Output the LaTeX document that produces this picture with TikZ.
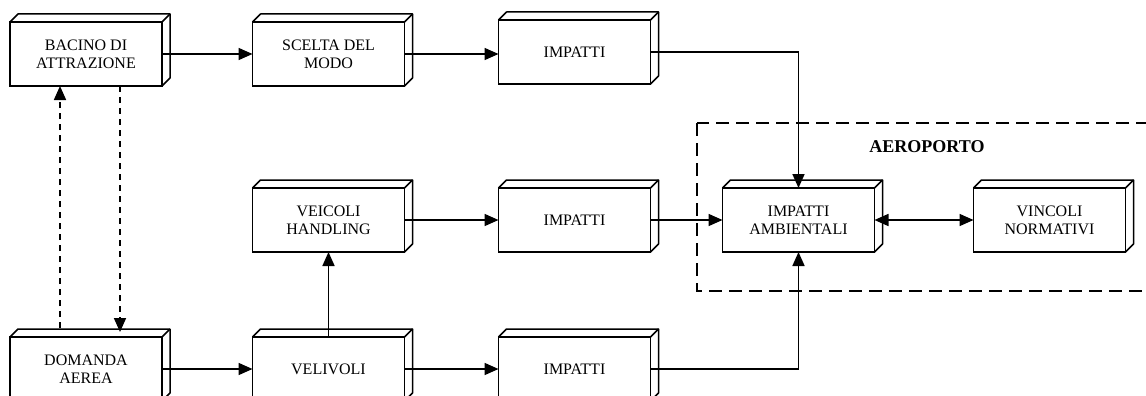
\documentclass[tikz,border=0pt]{standalone}
\usepackage{fontspec}
\setmainfont{Liberation Serif}
\usetikzlibrary{arrows.meta,calc}
\begin{document}
\begin{tikzpicture}[x=1pt,y=-1pt,
  box/.style={draw, line width=1.9pt, minimum width=152pt, minimum height=64pt,
    inner sep=0pt, outer sep=0pt, align=center, fill=white,
    font=\fontsize{16}{18}\selectfont},
  face/.style={draw, line width=1.5pt, line join=round},
  conn/.style={line width=1.7pt, -{Triangle[length=14pt,width=12pt]}},
  dconn/.style={conn, dash pattern=on 6pt off 5pt},
  frame/.style={line width=1.6pt, dash pattern=on 13pt off 7pt},
  ]
\useasboundingbox (0,0) rectangle (1146,396);
\clip (0,0) rectangle (1146,396);

% nodes
\node[box] (bac) at (86,54)    {BACINO DI\\ATTRAZIONE};
\node[box] (sce) at (328.5,54) {SCELTA DEL\\MODO};
\node[box] (imp1) at (574.5,52) {IMPATTI};
\node[box] (vei) at (328.5,220) {VEICOLI\\HANDLING};
\node[box] (imp2) at (574.5,220) {IMPATTI};
\node[box] (amb) at (798.5,220) {IMPATTI\\AMBIENTALI};
\node[box] (vin) at (1049.5,220) {VINCOLI\\NORMATIVI};
\node[box] (dom) at (86,369)   {DOMANDA\\AEREA};
\node[box] (vel) at (328.5,369) {VELIVOLI};
\node[box] (imp3) at (574.5,369) {IMPATTI};

% 3D faces
\foreach \n in {bac,sce,imp1,vei,imp2,amb,vin,dom,vel,imp3}{
  \draw[face] (\n.north west) -- ++(8,-8) -- ($(\n.north east)+(8,-8)$)
     -- ($(\n.south east)+(8,-8)$) -- (\n.south east);
  \draw[face] (\n.north east) -- ++(8,-8);
}

% airport frame
\draw[frame] (697,123) rectangle (1175,291);
\node[font=\fontsize{18}{20}\selectfont\bfseries] (aero) at (927,147) {AEROPORTO};

% connectors
\draw[conn] (bac.east) -- (sce.west);
\draw[conn] (sce.east) -- (sce.east -| imp1.west);
\draw[conn] (imp1.east) -| (amb.north);
\draw[conn] (vei.east) -- (imp2.west);
\draw[conn] (imp2.east) -- (amb.west);
\draw[conn, {Triangle[length=14pt,width=12pt]}-{Triangle[length=14pt,width=12pt]}] (amb.east) -- (vin.west);
\draw[conn] (dom.east) -- (vel.west);
\draw[conn] (vel.east) -- (imp3.west);
\draw[conn] (imp3.east) -| (amb.south);
\draw[conn] (vel.north) -- (vei.south);
\draw[dconn] ($(dom.north west)+(50,-9)$) -- ($(bac.south west)+(50,0)$);
\draw[dconn] ($(bac.south west)+(110,0)$) -- ($(dom.north west)+(110,-5)$);
\end{tikzpicture}
\end{document}
